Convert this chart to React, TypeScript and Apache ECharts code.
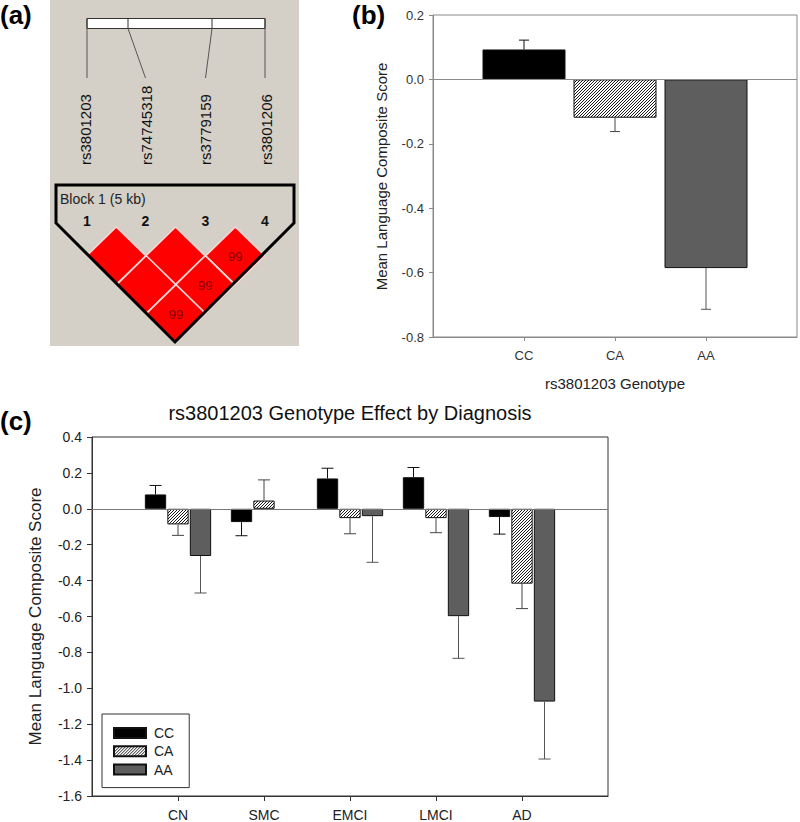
import React, { useEffect, useRef } from 'react';
import * as echarts from 'echarts';

// ---------- data ----------
const genotypes = ['CC', 'CA', 'AA'];
const bMeans = [0.093, -0.119, -0.586];
const bSE = [0.029, 0.043, 0.128];

const diagnoses = ['CN', 'SMC', 'EMCI', 'LMCI', 'AD'];
const ccMeans = [0.080, -0.074, 0.169, 0.176, -0.046];
const ccSE = [0.050, 0.076, 0.057, 0.054, 0.095];
const caMeans = [-0.087, 0.046, -0.052, -0.052, -0.417];
const caSE = [0.061, 0.115, 0.087, 0.081, 0.139];
const aaMeans: (number | null)[] = [-0.263, null, -0.041, -0.598, -1.074];
const aaSE: (number | null)[] = [0.206, null, 0.257, 0.235, 0.320];

const bAxisMin = -0.8, bAxisMax = 0.2, bAxisStep = 0.2;
const cAxisMin = -1.6, cAxisMax = 0.4, cAxisStep = 0.2;

const snpNames = ['rs3801203', 'rs74745318', 'rs3779159', 'rs3801206'];
// LD pairs (1-based marker indices) and the D' label shown ('' = 100)
const ldPairs: [number, number, string][] = [
  [1, 2, ''], [2, 3, ''], [3, 4, '99'],
  [1, 3, ''], [2, 4, '99'],
  [1, 4, '99'],
];

// ---------- styles ----------
const FONT = "'Liberation Sans', Arial, sans-serif";
const errColors = ['#111111', '#444444', '#555555'];

function makeHatch(): any {
  const size = 3;
  const cv = document.createElement('canvas');
  cv.width = size;
  cv.height = size;
  const ctx = cv.getContext('2d')!;
  ctx.fillStyle = '#ffffff';
  ctx.fillRect(0, 0, size, size);
  ctx.fillStyle = '#1a1a1a';
  for (let x = 0; x < size; x++) {
    for (let y = 0; y < size; y++) {
      if ((x + y) % size === size - 1) ctx.fillRect(x, y, 1, 1);
    }
  }
  return { image: cv, repeat: 'repeat' };
}

function errEnd(m: number, se: number) {
  return m >= 0 ? m + se : m - se;
}

function errorRender(offset: number, cap: number, colorFn: (i: number) => string) {
  return (params: any, api: any) => {
    const x = api.value(0);
    const p0 = api.coord([x, api.value(1)]);
    const p1 = api.coord([x, api.value(2)]);
    const c = colorFn(params.dataIndex);
    const cx = p0[0] + offset;
    return {
      type: 'group',
      children: [
        { type: 'line', shape: { x1: cx, y1: p0[1], x2: cx, y2: p1[1] }, style: { stroke: c, lineWidth: 1 } },
        { type: 'line', shape: { x1: cx - cap / 2, y1: p1[1], x2: cx + cap / 2, y2: p1[1] }, style: { stroke: c, lineWidth: 1 } },
      ],
    };
  };
}

function panelAGraphics() {
  const els: any[] = [];
  els.push({ type: 'rect', shape: { x: 50, y: 0, width: 249, height: 346 }, style: { fill: '#d4d0c8' } });
  const physX = [87, 128, 212, 265];
  const markX = [87, 145.5, 205.5, 265];
  const labelX = [85, 146, 205.5, 266];
  els.push({ type: 'rect', shape: { x: 87, y: 18.5, width: 178, height: 10 }, style: { fill: '#ffffff', stroke: '#333', lineWidth: 1 } });
  physX.forEach((px, i) => {
    els.push({ type: 'line', shape: { x1: px, y1: 18.5, x2: px, y2: 28.5 }, style: { stroke: '#333', lineWidth: 1 } });
    els.push({ type: 'line', shape: { x1: px, y1: 28.5, x2: markX[i], y2: 78 }, style: { stroke: '#555', lineWidth: 1 } });
  });
  snpNames.forEach((n, i) => {
    els.push({
      type: 'text', x: labelX[i], y: 165, rotation: Math.PI / 2,
      style: { text: n, font: `15px ${FONT}`, fill: '#111', textAlign: 'left', textVerticalAlign: 'middle' },
    });
    els.push({
      type: 'text', x: markX[i], y: 221,
      style: { text: String(i + 1), font: `bold 14px ${FONT}`, fill: '#111', textAlign: 'center', textVerticalAlign: 'middle' },
    });
  });
  els.push({
    type: 'text', x: 60, y: 199,
    style: { text: 'Block 1 (5 kb)', font: `14px ${FONT}`, fill: '#222', textAlign: 'left', textVerticalAlign: 'middle' },
  });
  const hx = 29.5, vy = 28.8, top = 227;
  ldPairs.forEach(([a, b, v]) => {
    const cx = (markX[a - 1] + markX[b - 1]) / 2;
    const row = b - a;
    const cy = top + row * vy;
    els.push({
      type: 'polygon',
      shape: { points: [[cx, cy - vy], [cx + hx, cy], [cx, cy + vy], [cx - hx, cy]] },
      style: { fill: '#ff0000', stroke: '#f6d6d6', lineWidth: 1.5 },
    });
    if (v) {
      els.push({
        type: 'text', x: cx, y: cy + 1,
        style: { text: v, font: `13px ${FONT}`, fill: '#8a0000', textAlign: 'center', textVerticalAlign: 'middle' },
      });
    }
  });
  els.push({
    type: 'polygon',
    shape: { points: [[56, 185], [294, 185], [294, 223], [175, 342], [56, 223]] },
    style: { fill: 'none', stroke: '#000', lineWidth: 3 },
  });
  return els;
}

export default function App() {
  const ref = useRef<HTMLDivElement>(null);
  useEffect(() => {
    document.body.style.margin = '0';
    const chart = echarts.init(ref.current!, null, { renderer: 'svg' });
    const bCats = ['', ...genotypes, ''];
    const cCats = ['', ...diagnoses, ''];
    const fmt = (v: number) => v.toFixed(1);
    const hatchFill = makeHatch();
    const barFills: any[] = ['#000000', hatchFill, '#5e5e5e'];

    const cSeriesMeans = [ccMeans, caMeans, aaMeans];
    const cSeriesSE = [ccSE, caSE, aaSE];
    const pitch = 22.5;

    const series: any[] = [
      {
        name: 'bBars', type: 'bar', xAxisIndex: 0, yAxisIndex: 0, barWidth: 83,
        data: ['-', ...bMeans.map((m, i) => ({
          value: m,
          itemStyle: { color: barFills[i], borderColor: '#111', borderWidth: 1 },
        })), '-'],
        markLine: {
          silent: true, symbol: ['none', 'none'], label: { show: false },
          lineStyle: { color: '#8a8a8a', type: 'solid', width: 1 }, data: [{ yAxis: 0 }],
        },
        z: 2,
      },
      {
        name: 'bErr', type: 'custom', xAxisIndex: 0, yAxisIndex: 0,
        renderItem: errorRender(0, 10, (i) => errColors[i]),
        encode: { x: 0, y: [1, 2] },
        data: genotypes.map((g, i) => [g, bMeans[i], errEnd(bMeans[i], bSE[i])]),
        z: 3,
      },
    ];
    genotypes.forEach((g, k) => {
      series.push({
        name: g, type: 'bar', xAxisIndex: 1, yAxisIndex: 1, barWidth: 21.3, barGap: '5.6%',
        itemStyle: { color: barFills[k], borderColor: '#111', borderWidth: 1 },
        data: ['-', ...cSeriesMeans[k].map((m) => (m === null ? '-' : m)), '-'],
        markLine: k === 0 ? {
          silent: true, symbol: ['none', 'none'], label: { show: false },
          lineStyle: { color: '#777', type: 'solid', width: 1 }, data: [{ yAxis: 0 }],
        } : undefined,
        z: 2,
      });
      series.push({
        name: g + 'Err', type: 'custom', xAxisIndex: 1, yAxisIndex: 1,
        renderItem: errorRender((k - 1) * pitch, 12, () => errColors[k]),
        encode: { x: 0, y: [1, 2] },
        data: diagnoses
          .map((d, i) => {
            const m = cSeriesMeans[k][i];
            const s = cSeriesSE[k][i];
            return m === null || s === null ? null : [d, m, errEnd(m, s)];
          })
          .filter((x) => x !== null),
        z: 3,
      });
    });

    const graphic: any[] = [
      ...panelAGraphics(),
      { type: 'text', x: 0, y: 15, style: { text: '(a)', font: `bold 26px ${FONT}`, fill: '#000', textAlign: 'left', textVerticalAlign: 'middle' } },
      { type: 'text', x: 352, y: 15, style: { text: '(b)', font: `bold 26px ${FONT}`, fill: '#000', textAlign: 'left', textVerticalAlign: 'middle' } },
      { type: 'text', x: 0, y: 421, style: { text: '(c)', font: `bold 26px ${FONT}`, fill: '#000', textAlign: 'left', textVerticalAlign: 'middle' } },
      { type: 'text', x: 381.7, y: 176.5, rotation: Math.PI / 2, style: { text: 'Mean Language Composite Score', font: `15px ${FONT}`, fill: '#222', textAlign: 'center', textVerticalAlign: 'middle' } },
      { type: 'text', x: 615, y: 383, style: { text: 'rs3801203 Genotype', font: `15px ${FONT}`, fill: '#222', textAlign: 'center', textVerticalAlign: 'middle' } },
      { type: 'text', x: 35, y: 616.5, rotation: Math.PI / 2, style: { text: 'Mean Language Composite Score', font: `17px ${FONT}`, fill: '#222', textAlign: 'center', textVerticalAlign: 'middle' } },
      { type: 'text', x: 350, y: 413, style: { text: 'rs3801203 Genotype Effect by Diagnosis', font: `20px ${FONT}`, fill: '#111', textAlign: 'center', textVerticalAlign: 'middle' } },
    ];

    const option: any = {
      animation: false,
      backgroundColor: '#ffffff',
      grid: [
        { left: 433, top: 15, width: 366, height: 322, show: true, borderColor: '#8a8a8a', borderWidth: 1, backgroundColor: 'transparent' },
        { left: 92, top: 437, width: 516, height: 360, show: true, borderColor: '#333', borderWidth: 1, backgroundColor: 'transparent' },
      ],
      xAxis: [
        {
          gridIndex: 0, type: 'category', data: bCats, boundaryGap: false,
          axisLine: { onZero: false, lineStyle: { color: '#8a8a8a' } },
          axisTick: { length: 4, interval: (i: number) => i > 0 && i < bCats.length - 1, lineStyle: { color: '#8a8a8a' } },
          axisLabel: { interval: 0, fontSize: 13, color: '#333', margin: 12, fontFamily: FONT },
          splitLine: { show: false },
        },
        {
          gridIndex: 1, type: 'category', data: cCats, boundaryGap: false,
          axisLine: { onZero: false, lineStyle: { color: '#333' } },
          axisTick: { length: 5, interval: (i: number) => i > 0 && i < cCats.length - 1, lineStyle: { color: '#333' } },
          axisLabel: { interval: 0, fontSize: 14, color: '#222', margin: 12, fontFamily: FONT },
          splitLine: { show: false },
        },
      ],
      yAxis: [
        {
          gridIndex: 0, type: 'value', min: bAxisMin, max: bAxisMax, interval: bAxisStep,
          axisLine: { show: true, onZero: false, lineStyle: { color: '#8a8a8a' } },
          axisTick: { show: true, length: 4, lineStyle: { color: '#8a8a8a' } },
          axisLabel: { formatter: fmt, fontSize: 13, color: '#333', margin: 9, fontFamily: FONT },
          splitLine: { show: false },
        },
        {
          gridIndex: 1, type: 'value', min: cAxisMin, max: cAxisMax, interval: cAxisStep,
          axisLine: { show: true, onZero: false, lineStyle: { color: '#333' } },
          axisTick: { show: true, length: 5, lineStyle: { color: '#333' } },
          axisLabel: { formatter: fmt, fontSize: 14, color: '#222', margin: 10, fontFamily: FONT },
          splitLine: { show: false },
        },
      ],
      legend: {
        data: genotypes,
        orient: 'vertical',
        left: 102, top: 714,
        padding: [12, 15, 11, 11],
        itemGap: 4.3,
        itemWidth: 32, itemHeight: 10,
        icon: 'rect',
        borderColor: '#333', borderWidth: 1, backgroundColor: '#fff',
        textStyle: { fontSize: 14, color: '#222', fontFamily: FONT, padding: [0, 0, 0, 3] },
        selectedMode: false,
      },
      graphic,
      series,
    };
    chart.setOption(option);
    return () => chart.dispose();
  }, []);
  return <div ref={ref} style={{ position: 'fixed', left: 0, top: 0, width: 800, height: 822 }} />;
}
